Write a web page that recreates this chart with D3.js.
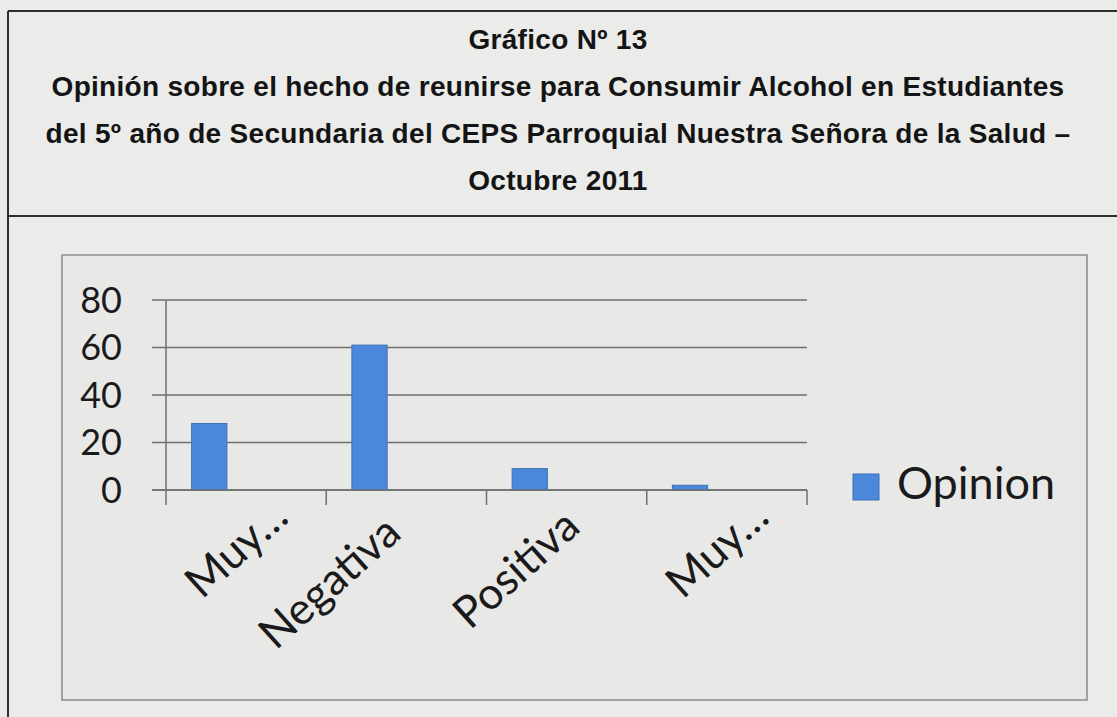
<!DOCTYPE html>
<html>
<head>
<meta charset="utf-8">
<script src="https://cdn.jsdelivr.net/npm/d3@7"></script>
<style>
  body { margin: 0; background: #ebebea; }
  svg { display: block; }
</style>
</head>
<body>
<div id="chart"></div>
<script>
// Chart data
const titleLines = [
    "Gráfico Nº 13",
    "Opinión sobre el hecho de reunirse para Consumir Alcohol en Estudiantes",
    "del 5º año de Secundaria del CEPS Parroquial Nuestra Señora de la Salud –",
    "Octubre 2011"
];
const categories = ["Muy…", "Negativa", "Positiva", "Muy…"];
const opinionValues = [28, 61, 9, 2];
const yTicks = [0, 20, 40, 60, 80];
const seriesName = "Opinion";

const W = 1117, H = 717;
const svg = d3.select("#chart").append("svg")
    .attr("width", W)
    .attr("height", H);

// page frame (table cell lines)
const frame = svg.append("g").attr("stroke", "#2e2e2e").attr("stroke-width", 2);
frame.append("line").attr("x1", 8).attr("x2", W).attr("y1", 11).attr("y2", 11);
frame.append("line").attr("x1", 8).attr("x2", W).attr("y1", 216).attr("y2", 216);
frame.append("line").attr("x1", 8).attr("x2", 8).attr("y1", 11).attr("y2", H);

// title
svg.append("g").selectAll("text")
    .data(titleLines)
    .enter().append("text")
    .attr("x", 558)
    .attr("y", (d, i) => 49 + i * 47)
    .attr("text-anchor", "middle")
    .attr("font-family", "'Liberation Sans', Arial, sans-serif")
    .attr("font-weight", "bold")
    .attr("font-size", 28)
    .attr("letter-spacing", 0.3)
    .attr("fill", "#141414")
    .text(d => d);

// chart box
svg.append("rect")
    .attr("x", 62).attr("y", 255)
    .attr("width", 1025).attr("height", 445)
    .attr("fill", "#e8e8e7")
    .attr("stroke", "#8a8a8a")
    .attr("stroke-width", 1.5);

const plot = { left: 166, right: 807, top: 300, bottom: 490 };

const x = d3.scaleBand()
    .domain(d3.range(categories.length))
    .range([plot.left, plot.right]);

const y = d3.scaleLinear()
    .domain([0, 80])
    .range([plot.bottom, plot.top]);

const labelFont = "Lato, 'Open Sans', sans-serif";

// gridlines
svg.append("g").selectAll("line")
    .data(yTicks)
    .enter().append("line")
    .attr("x1", plot.left - 14)
    .attr("x2", plot.right)
    .attr("y1", d => y(d))
    .attr("y2", d => y(d))
    .attr("stroke", "#6f6f6f")
    .attr("stroke-width", 1.5);

// y tick labels
svg.append("g").selectAll("text")
    .data(yTicks)
    .enter().append("text")
    .attr("x", 122)
    .attr("y", d => y(d))
    .attr("dy", "0.36em")
    .attr("text-anchor", "end")
    .attr("font-family", labelFont)
    .attr("font-size", 36)
    .attr("fill", "#1a1a1a")
    .text(d => d);

// bars
svg.append("g").selectAll("rect")
    .data(opinionValues)
    .enter().append("rect")
    .attr("x", (d, i) => x(i) + x.bandwidth() * 0.16)
    .attr("y", d => y(d))
    .attr("width", x.bandwidth() * 0.22)
    .attr("height", d => y(0) - y(d))
    .attr("fill", "#4b88db")
    .attr("stroke", "#3c6fb5")
    .attr("stroke-width", 1);

// axes lines
const axis = svg.append("g").attr("stroke", "#6f6f6f").attr("stroke-width", 1.5);
axis.append("line")
    .attr("x1", plot.left).attr("x2", plot.left)
    .attr("y1", plot.top).attr("y2", plot.bottom + 15);
axis.append("line")
    .attr("x1", plot.left - 14).attr("x2", plot.right)
    .attr("y1", plot.bottom).attr("y2", plot.bottom);
axis.selectAll(".tick")
    .data(d3.range(1, categories.length + 1))
    .enter().append("line")
    .attr("x1", i => plot.left + i * x.bandwidth())
    .attr("x2", i => plot.left + i * x.bandwidth())
    .attr("y1", plot.bottom)
    .attr("y2", plot.bottom + 15);

// category labels, rotated
const labels = svg.append("g").selectAll("text")
    .data(categories)
    .enter().append("text")
    .attr("text-anchor", "end")
    .attr("font-family", labelFont)
    .attr("font-size", 44)
    .attr("fill", "#1a1a1a")
    .text(d => d);

const lens = labels.nodes().map(n => n.getComputedTextLength());
const maxLen = d3.max(lens);
labels.attr("transform", (d, i) => {
    const shift = maxLen - lens[i];
    const ex = x(i) + x.bandwidth() / 2 - 3 + shift * 0.9;
    const ey = 536 - shift * 0.3;
    return `translate(${ex},${ey}) rotate(-42)`;
});

// legend
const legend = svg.append("g").attr("transform", "translate(853,474)");
legend.append("rect")
    .attr("width", 26).attr("height", 26)
    .attr("fill", "#4b88db")
    .attr("stroke", "#3c6fb5");
legend.append("text")
    .attr("x", 44)
    .attr("y", 25)
    .attr("font-family", labelFont)
    .attr("font-size", 45)
    .attr("fill", "#1a1a1a")
    .text(seriesName);
</script>
</body>
</html>
